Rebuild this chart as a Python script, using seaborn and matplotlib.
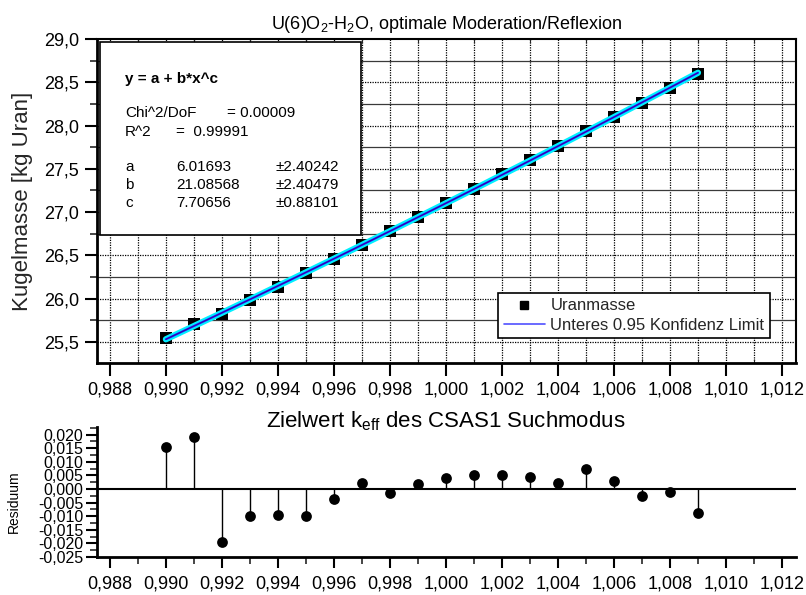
import numpy as np
import pandas as pd
import matplotlib
matplotlib.use("Agg")
import matplotlib.pyplot as plt
from matplotlib.ticker import MultipleLocator, FuncFormatter
from matplotlib.patches import Rectangle
from matplotlib.lines import Line2D
import seaborn as sns

# --- data -------------------------------------------------------------
k_eff = [0.990, 0.991, 0.992, 0.993, 0.994, 0.995, 0.996, 0.997, 0.998, 0.999,
         1.000, 1.001, 1.002, 1.003, 1.004, 1.005, 1.006, 1.007, 1.008, 1.009]
uranmasse = [25.5465, 25.7027, 25.8174, 25.9816, 26.1377, 26.2938, 26.4578,
             26.6222, 26.7782, 26.9425, 27.1066, 27.2710, 27.4351, 27.5994,
             27.7637, 27.9360, 28.1002, 28.2645, 28.4370, 28.6012]
residuum = [0.0154, 0.0191, -0.0196, -0.0099, -0.0094, -0.0099, -0.0035,
            0.0022, -0.0016, 0.0018, 0.0040, 0.0053, 0.0053, 0.0043, 0.0023,
            0.0072, 0.0028, -0.0027, -0.0010, -0.0088]

# fit parameters y = a + b*x^c
fit_a, fit_b, fit_c = 6.01693, 21.08568, 7.70656
fit_err = {"a": 2.40242, "b": 2.40479, "c": 0.88101}
chi2_dof = "0.00009"
r2 = "0.99991"

df = pd.DataFrame({"k_eff": k_eff, "Uranmasse": uranmasse, "Residuum": residuum})
x_fit = np.linspace(min(k_eff), max(k_eff), 200)
fit_df = pd.DataFrame({"k_eff": x_fit, "fit": fit_a + fit_b * x_fit ** fit_c})

# --- style ------------------------------------------------------------
sns.set_theme(style="white")
plt.rcParams["font.family"] = ["Liberation Sans", "DejaVu Sans"]
plt.rcParams["mathtext.fontset"] = "custom"
plt.rcParams["mathtext.rm"] = "Liberation Sans"
plt.rcParams["mathtext.it"] = "Liberation Sans"

def comma(fmt):
    def f(v, _):
        if abs(v) < 1e-12:
            v = 0.0
        return fmt.format(v).replace(".", ",")
    return FuncFormatter(f)

fig = plt.figure(figsize=(8.06, 5.95), dpi=100)
W, H = 806, 595
def box(l, t, r, b):
    return [l / W, 1 - b / H, (r - l) / W, (b - t) / H]

xlim = (0.98754, 1.0125)

# --- upper panel ------------------------------------------------------
ax = fig.add_axes(box(97, 39, 796, 363))
ax.set_xlim(*xlim)
ax.set_ylim(25.257, 29.0)

ax.xaxis.set_major_locator(MultipleLocator(0.002))
ax.xaxis.set_minor_locator(MultipleLocator(0.001))
ax.yaxis.set_major_locator(MultipleLocator(0.5))
ax.yaxis.set_minor_locator(MultipleLocator(0.25))
ax.xaxis.set_major_formatter(comma("{:.3f}"))
ax.yaxis.set_major_formatter(comma("{:.1f}"))

ax.grid(False)
for xv in np.arange(0.988, 1.0125, 0.001):
    ax.axvline(xv, color="black", lw=0.9, ls=(0, (1.0, 1.0)), zorder=0.5)
for yv in np.arange(25.5, 29.0, 0.5):
    ax.axhline(yv, color="black", lw=0.9, ls=(0, (1.0, 1.0)), zorder=0.5)
for yv in np.arange(25.25, 29.0, 0.5):
    ax.axhline(yv, color="#3a3a3a", lw=0.9, zorder=0.5)

ax.tick_params(axis="both", which="major", direction="out", length=9, width=1.5,
               labelsize=13, pad=4, colors="black", left=True, bottom=True)
ax.tick_params(axis="both", which="minor", direction="out", length=5, width=1.2,
               left=True, bottom=True)
ax.tick_params(axis="x", which="minor", top=True, direction="in", length=3, width=0.8)
for s in ["left", "bottom"]:
    ax.spines[s].set_linewidth(2.0)
for s in ["top", "right"]:
    ax.spines[s].set_linewidth(1.5)
for s in ax.spines.values():
    s.set_color("black")

sns.scatterplot(data=df, x="k_eff", y="Uranmasse", ax=ax, marker="s", s=85,
                color="black", edgecolor="black", linewidth=0, zorder=2,
                legend=False)
sns.lineplot(data=fit_df, x="k_eff", y="fit", ax=ax, color="#00f0ff", lw=4.5,
             zorder=3, legend=False)
sns.lineplot(data=fit_df, x="k_eff", y="fit", ax=ax, color="#2020ff", lw=1.5,
             zorder=4, legend=False)
sns.lineplot(data=fit_df, x="k_eff", y="fit", ax=ax, color="#400090", lw=0.6,
             zorder=5, legend=False)
ax.set_xlabel("")
ax.set_ylabel("Kugelmasse [kg Uran]", fontsize=16, labelpad=8)

ax.set_title(r"U(6)O$_2$-H$_2$O, optimale Moderation/Reflexion", fontsize=13,
             pad=7, color="black")

# fit parameter box
ax.add_patch(Rectangle((0.0043, 0.395), 0.374, 0.596, transform=ax.transAxes,
                       facecolor="white", edgecolor="black", lw=1.2, zorder=6))
tx = ax.transAxes
def px2ax(x, y):
    return ((x - 97) / 699, 1 - (y - 39) / 324)
kw = dict(transform=tx, fontsize=11, va="center", ha="left", zorder=7, color="black")
ax.text(*px2ax(125, 79), "y = a + b*x^c", fontweight="bold", **kw)
ax.text(*px2ax(125, 113), "Chi^2/DoF", **kw)
ax.text(*px2ax(227, 113), "= " + chi2_dof, **kw)
ax.text(*px2ax(125, 132), "R^2", **kw)
ax.text(*px2ax(176, 132), "=  " + r2, **kw)
for name, val, yy in [("a", fit_a, 167), ("b", fit_b, 185), ("c", fit_c, 203)]:
    ax.text(*px2ax(125, yy), name, **kw)
    ax.text(*px2ax(176, yy), f"{val:.5f}", **kw)
    ax.text(*px2ax(276, yy), f"\u00b1{fit_err[name]:.5f}", **kw)

# legend
handles = [Line2D([], [], ls="none", marker="s", color="black", markersize=6),
           Line2D([], [], color="#5050ff", lw=1.2)]
leg = ax.legend(handles, ["Uranmasse", "Unteres 0.95 Konfidenz Limit"],
                loc="lower right", bbox_to_anchor=(0.963, 0.076), fontsize=12,
                frameon=True, fancybox=False, edgecolor="black", framealpha=1,
                handlelength=2.5, handletextpad=0.3, borderpad=0.35,
                labelspacing=0.25, borderaxespad=0)
leg.get_frame().set_linewidth(1.2)
leg.set_zorder(8)

# --- lower panel (residuals) -----------------------------------------
ax2 = fig.add_axes(box(97, 427, 796, 557))
ax2.set_xlim(*xlim)
ax2.set_ylim(-0.025, 0.0228)
ax2.xaxis.set_major_locator(MultipleLocator(0.002))
ax2.xaxis.set_minor_locator(MultipleLocator(0.001))
ax2.yaxis.set_major_locator(MultipleLocator(0.005))
ax2.yaxis.set_minor_locator(MultipleLocator(0.0025))
ax2.xaxis.set_major_formatter(comma("{:.3f}"))
ax2.yaxis.set_major_formatter(comma("{:.3f}"))
ax2.grid(False)
ax2.tick_params(axis="both", which="major", direction="out", length=8, width=1.5,
                labelsize=13, pad=3, colors="black", left=True, bottom=True)
ax2.tick_params(axis="both", which="minor", direction="out", length=5, width=1.2,
                left=True, bottom=True)
ax2.tick_params(axis="y", which="major", labelsize=11.5, pad=2)
ax2.tick_params(axis="x", which="major", pad=5)
for s in ["top", "right"]:
    ax2.spines[s].set_visible(False)
for s in ["left", "bottom"]:
    ax2.spines[s].set_linewidth(2.0)
    ax2.spines[s].set_color("black")

ax2.axhline(0, color="black", lw=1.5, zorder=1)
ax2.vlines(df["k_eff"], 0, df["Residuum"], color="black", lw=1.0, zorder=2)
sns.scatterplot(data=df, x="k_eff", y="Residuum", ax=ax2, marker="o", s=60,
                color="black", edgecolor="black", linewidth=0, zorder=3,
                legend=False)
ax2.set_xlabel("")
ax2.set_ylabel("")
fig.text(14 / W, 1 - 502 / H, "Residuum", fontsize=10, rotation=90,
         ha="center", va="center", color="black")
fig.text(446 / W, 1 - 421 / H, r"Zielwert k$_{\mathrm{eff}}$ des CSAS1 Suchmodus",
         fontsize=16, ha="center", va="center", color="black")

fig.savefig("out.png", dpi=100)
